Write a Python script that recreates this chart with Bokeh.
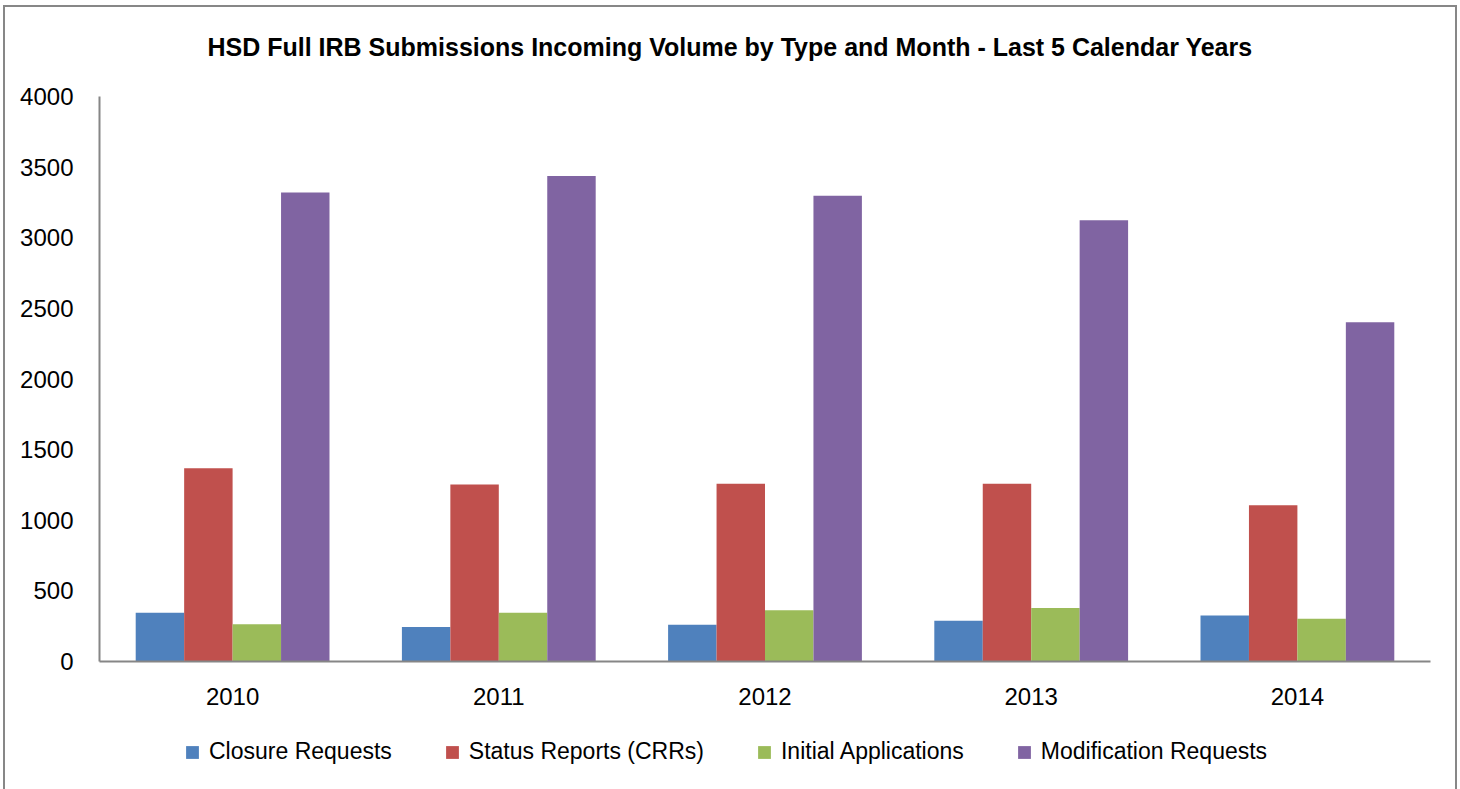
from bokeh.plotting import figure
from bokeh.models import (FactorRange, Legend, LegendItem, FixedTicker,
                          ColumnDataSource, Range1d)
from bokeh.core.properties import value
from bokeh.layouts import column
from bokeh.transform import dodge
from bokeh.embed import file_html
from bokeh.resources import INLINE

years = ["2010", "2011", "2012", "2013", "2014"]
series_names = ["Closure Requests", "Status Reports (CRRs)", "Initial Applications", "Modification Requests"]
closure = [345, 245, 260, 288, 325]
status = [1368, 1253, 1258, 1258, 1107]
initial = [263, 346, 362, 378, 303]
modification = [3320, 3438, 3297, 3124, 2402]
colors = ["#4F81BD", "#C0504D", "#9BBB59", "#8064A2"]
y_ticks = [0, 500, 1000, 1500, 2000, 2500, 3000, 3500, 4000]
title_text = "HSD Full IRB Submissions Incoming Volume by Type and Month - Last 5 Calendar Years"

FONT = "Liberation Sans"


def bare(fig):
    fig.xgrid.grid_line_color = None
    fig.ygrid.grid_line_color = None
    fig.outline_line_color = None
    return fig


# title strip
tf = bare(figure(width=1450, height=75, output_backend="svg", toolbar_location=None,
                 x_range=Range1d(0, 1331), y_range=Range1d(0, 75),
                 x_axis_location=None, y_axis_location=None,
                 min_border_left=0, min_border_right=0, min_border_top=0, min_border_bottom=0))
tf.text(x=[108], y=[36], text=[title_text], text_font=value(FONT), text_font_size="25px",
        text_font_style="bold", text_color="#000000", text_baseline="middle", text_align="left")

# main chart
src = ColumnDataSource(dict(year=years, c=closure, s=status, i=initial, m=modification))
p = bare(figure(x_range=FactorRange(*years), y_range=Range1d(0, 4000),
                width=1450, height=645, output_backend="svg", toolbar_location=None,
                min_border_left=94, min_border_right=25, min_border_top=14, min_border_bottom=66))

bw = 0.182
offsets = [-1.5 * bw, -0.5 * bw, 0.5 * bw, 1.5 * bw]
for col, off, color in zip(["c", "s", "i", "m"], offsets, colors):
    p.vbar(x=dodge("year", off, range=p.x_range), top=col, width=bw, source=src,
           fill_color=color, line_color=None)

for ax in (p.xaxis[0], p.yaxis[0]):
    ax.axis_line_color = "#868686"
    ax.axis_line_width = 2
    ax.major_tick_line_color = None
    ax.minor_tick_line_color = None
    ax.major_tick_out = 0
    ax.major_tick_in = 0
    ax.major_label_text_font = FONT
    ax.major_label_text_font_size = "24px"
    ax.major_label_text_color = "#000000"

p.yaxis[0].ticker = FixedTicker(ticks=y_ticks)
p.yaxis[0].major_label_standoff = 26
p.xaxis[0].major_label_standoff = 26

# legend strip below the chart
lg = bare(figure(width=1450, height=62, output_backend="svg", toolbar_location=None,
                 x_range=Range1d(0, 1), y_range=Range1d(0, 1),
                 x_axis_location=None, y_axis_location=None,
                 min_border_left=0, min_border_right=0, min_border_top=0, min_border_bottom=0))
dummy = []
for color in colors:
    dummy.append(lg.vbar(x=[-10], top=[-10], bottom=-11, width=0.1,
                         fill_color=color, line_color=None))

legend = Legend(items=[LegendItem(label=n, renderers=[r]) for n, r in zip(series_names, dummy)],
                orientation="horizontal", location=(85, 24),
                label_text_font=FONT, label_text_font_size="23px", label_text_color="#000000",
                glyph_width=16, glyph_height=16, label_standoff=9, spacing=52,
                padding=0, margin=0, border_line_alpha=0, background_fill_alpha=0)
lg.add_layout(legend)

layout = column(tf, p, lg, spacing=0,
                styles={"margin-left": "3px", "margin-top": "5px",
                        "border-left": "2px solid #878787",
                        "border-right": "2px solid #878787",
                        "border-top": "2px solid #878787"})

open("out.html", "w").write(file_html(layout, INLINE))
